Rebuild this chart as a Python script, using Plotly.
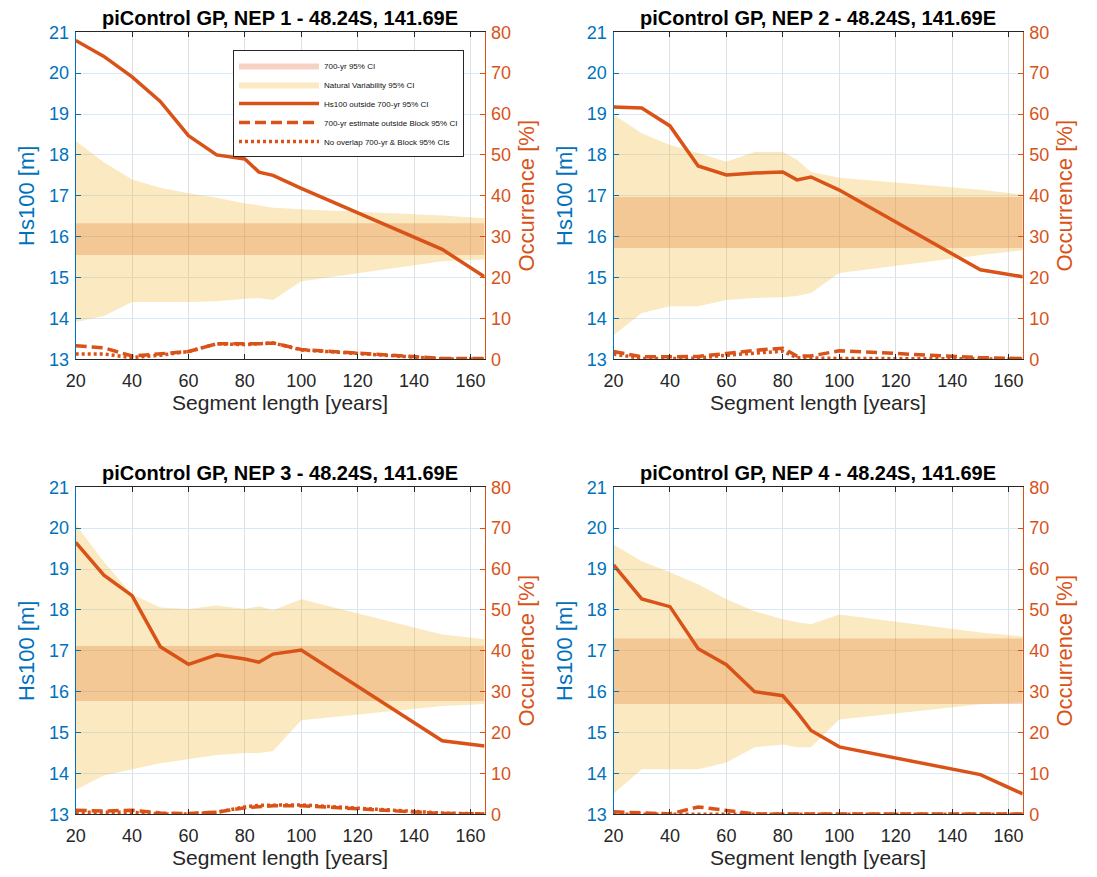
import plotly.graph_objects as go

# ---------------- data ----------------
seg = [20, 30, 40, 50, 60, 70, 80, 85, 90, 100, 150, 165]

titles = ["piControl GP, NEP 1 - 48.24S, 141.69E",
          "piControl GP, NEP 2 - 48.24S, 141.69E",
          "piControl GP, NEP 3 - 48.24S, 141.69E",
          "piControl GP, NEP 4 - 48.24S, 141.69E"]

# Natural variability 95% CI (Hs100, m)
nv_lo1 = [13.91, 14.06, 14.40, 14.40, 14.40, 14.42, 14.48, 14.50, 14.45, 14.91, 15.40, 15.44]
nv_hi1 = [18.34, 17.82, 17.40, 17.20, 17.06, 16.95, 16.81, 16.77, 16.71, 16.67, 16.52, 16.45]
nv_lo2 = [13.59, 14.13, 14.30, 14.30, 14.45, 14.50, 14.52, 14.55, 14.62, 15.11, 15.55, 15.67]
nv_hi2 = [18.98, 18.53, 18.24, 18.05, 17.83, 18.07, 18.07, 17.88, 17.58, 17.44, 17.15, 17.03]
nv_lo3 = [13.60, 13.95, 14.10, 14.25, 14.35, 14.45, 14.50, 14.50, 14.55, 15.30, 15.65, 15.70]
nv_hi3 = [20.09, 19.17, 18.38, 18.06, 18.02, 18.11, 18.02, 18.09, 17.99, 18.26, 17.40, 17.28]
nv_lo4 = [13.50, 14.10, 14.10, 14.10, 14.27, 14.64, 14.71, 14.64, 14.64, 15.32, 15.69, 15.74]
nv_hi4 = [19.60, 19.19, 18.92, 18.63, 18.26, 17.97, 17.77, 17.70, 17.65, 17.89, 17.45, 17.35]

# 700-yr 95% CI (Hs100, m): [low, high]
ci1 = [15.55, 16.33]
ci2 = [15.72, 16.97]
ci3 = [15.77, 17.12]
ci4 = [15.70, 17.30]

# Occurrence [%]
solid1 = [78.0, 74.1, 69.1, 63.1, 54.7, 50.0, 49.0, 45.8, 45.0, 41.8, 26.9, 20.2]
dash1 = [3.3, 2.8, 0.8, 1.3, 1.9, 3.8, 3.7, 3.8, 4.0, 2.4, 0.2, 0.2]
dot1 = [1.3, 1.3, 0.4, 1.0, 1.9, 3.8, 3.6, 3.8, 4.0, 2.3, 0.1, 0.1]

solid2 = [61.7, 61.5, 57.1, 47.3, 45.1, 45.6, 45.8, 43.9, 44.6, 41.4, 21.9, 20.2]
dash2 = [1.9, 0.6, 0.6, 0.7, 1.4, 2.2, 2.7, 0.8, 0.8, 2.1, 0.4, 0.2]
dot2 = [1.3, 0.2, 0.2, 0.3, 1.0, 1.6, 2.0, 0.4, 0.3, 0.2, 0.1, 0.1]

solid3 = [66.5, 58.5, 53.5, 41.0, 36.7, 39.0, 38.0, 37.2, 39.2, 40.2, 18.0, 16.7]
dash3 = [1.0, 0.8, 1.0, 0.3, 0.2, 0.5, 1.6, 1.9, 2.1, 2.1, 0.2, 0.1]
dot3 = [0.5, 0.4, 0.5, 0.1, 0.1, 0.5, 1.8, 2.2, 2.3, 2.3, 0.3, 0.1]

solid4 = [61.0, 52.7, 50.8, 40.5, 36.6, 30.0, 29.0, 25.0, 20.5, 16.5, 9.7, 5.0]
dash4 = [0.6, 0.4, 0.1, 1.8, 0.9, 0.1, 0.1, 0.1, 0.1, 0.1, 0.1, 0.1]
dot4 = [0.0, 0.0, 0.0, 0.0, 0.0, 0.0, 0.0, 0.0, 0.0, 0.0, 0.0, 0.0]

x_ticks = [20, 40, 60, 80, 100, 120, 140, 160]
hs_ticks = [13, 14, 15, 16, 17, 18, 19, 20, 21]
occ_ticks = [0, 10, 20, 30, 40, 50, 60, 70, 80]

legend_names = ["700-yr 95% CI", "Natural Variability 95% CI",
                "Hs100 outside 700-yr 95% CI",
                "700-yr estimate outside Block 95% CI",
                "No overlap 700-yr & Block 95% CIs"]

# ---------------- style ----------------
BLUE = "#0072BD"
ORANGE = "#D95319"
DARK = "#262626"
FONT = "Arial, Liberation Sans, Helvetica, sans-serif"
NV_FILL = "rgba(237,177,32,0.28)"
CI_FILL = "rgba(217,83,25,0.26)"
LW = 3.5

W, H = 1097, 877
col_dom = [[75.7 / W, 484.5 / W], [613.5 / W, 1022.7 / W]]
row_dom = [[1 - 359.3 / H, 1 - 32.3 / H], [1 - 814.3 / H, 1 - 487.3 / H]]

panels = [
    (nv_lo1, nv_hi1, ci1, solid1, dash1, dot1),
    (nv_lo2, nv_hi2, ci2, solid2, dash2, dot2),
    (nv_lo3, nv_hi3, ci3, solid3, dash3, dot3),
    (nv_lo4, nv_hi4, ci4, solid4, dash4, dot4),
]

fig = go.Figure()
layout = dict(
    width=W, height=H,
    margin=dict(l=0, r=0, t=0, b=0),
    paper_bgcolor="white", plot_bgcolor="white",
    font=dict(family=FONT, color=DARK),
    showlegend=True,
    legend=dict(x=233 / W, y=1 - 50 / H, xanchor="left", yanchor="top",
                bgcolor="white", bordercolor=DARK, borderwidth=1,
                font=dict(size=8, color="#111111"), itemwidth=80,
                tracegroupgap=0, traceorder="normal"),
)
annotations = []

for i, (lo, hi, ci, sol, das, dot) in enumerate(panels):
    r, c = divmod(i, 2)
    n = i + 1
    xa = "x" if n == 1 else f"x{n}"
    ya_hs = "y" if n == 1 else f"y{2 * n - 1}"
    ya_oc = f"y{2 * n}"
    first = (i == 0)

    # 700-yr CI band
    fig.add_trace(go.Scatter(
        x=[seg[0], seg[-1], seg[-1], seg[0]], y=[ci[0], ci[0], ci[1], ci[1]],
        fill="toself", fillcolor=CI_FILL, line=dict(width=0), mode="lines",
        name=legend_names[0], showlegend=first, xaxis=xa, yaxis=ya_hs,
        hoverinfo="skip"))
    # Natural variability band
    fig.add_trace(go.Scatter(
        x=seg + seg[::-1], y=hi + lo[::-1],
        fill="toself", fillcolor=NV_FILL, line=dict(width=0), mode="lines",
        name=legend_names[1], showlegend=first, xaxis=xa, yaxis=ya_hs,
        hoverinfo="skip"))
    # occurrence lines
    fig.add_trace(go.Scatter(
        x=seg, y=dot, mode="lines", line=dict(color=ORANGE, width=LW, dash="3px,3px"),
        name=legend_names[4], showlegend=first, xaxis=xa, yaxis=ya_oc))
    fig.add_trace(go.Scatter(
        x=seg, y=das, mode="lines", line=dict(color=ORANGE, width=LW, dash="11px,5px"),
        name=legend_names[3], showlegend=first, xaxis=xa, yaxis=ya_oc))
    fig.add_trace(go.Scatter(
        x=seg, y=sol, mode="lines", line=dict(color=ORANGE, width=LW),
        name=legend_names[2], showlegend=first, xaxis=xa, yaxis=ya_oc))

    xkey = "xaxis" if n == 1 else f"xaxis{n}"
    ykey_hs = "yaxis" if n == 1 else f"yaxis{2 * n - 1}"
    ykey_oc = f"yaxis{2 * n}"

    layout[xkey] = dict(
        domain=col_dom[c], anchor=ya_hs, range=[seg[0], seg[-1]],
        tickvals=x_ticks, ticks="inside", ticklen=5, tickcolor=DARK,
        showline=True, linecolor=DARK, linewidth=1, mirror="ticks",
        showgrid=True, gridcolor="#e0e0e0", gridwidth=1, zeroline=False,
        tickfont=dict(size=18, color=DARK), ticklabelstandoff=5,
        title=dict(text="Segment length [years]", font=dict(size=21, color=DARK), standoff=5),
        automargin=False)
    layout[ykey_hs] = dict(
        domain=row_dom[r], anchor=xa, range=[13, 21], tickvals=hs_ticks,
        ticks="inside", ticklen=5, tickcolor=BLUE, showline=True, linecolor=BLUE,
        linewidth=1, showgrid=True, gridcolor="#d8e9f5", gridwidth=1, zeroline=False,
        tickfont=dict(size=18, color=BLUE), ticklabelstandoff=2,
        title=dict(text="Hs100 [m]", font=dict(size=22, color=BLUE), standoff=8),
        automargin=False)
    layout[ykey_oc] = dict(
        overlaying=ya_hs, anchor=xa, side="right", range=[0, 80], tickvals=occ_ticks,
        ticks="inside", ticklen=5, tickcolor=ORANGE, showline=True, linecolor=ORANGE,
        linewidth=1, showgrid=False, zeroline=False,
        tickfont=dict(size=18, color=ORANGE), ticklabelstandoff=2,
        title=dict(text="Occurrence [%]", font=dict(size=22, color=ORANGE), standoff=8),
        automargin=False)

    annotations.append(dict(
        text=f"<b>{titles[i]}</b>", x=sum(col_dom[c]) / 2, y=row_dom[r][1],
        xref="paper", yref="paper", xanchor="center", yanchor="bottom",
        yshift=1, showarrow=False, font=dict(size=20, color="black", family=FONT)))

layout["annotations"] = annotations
fig.update_layout(**layout)

# legend order
order = {legend_names[k]: k for k in range(5)}
for tr in fig.data:
    tr.legendrank = 1000 + order[tr.name]

fig.write_html("out.html")
